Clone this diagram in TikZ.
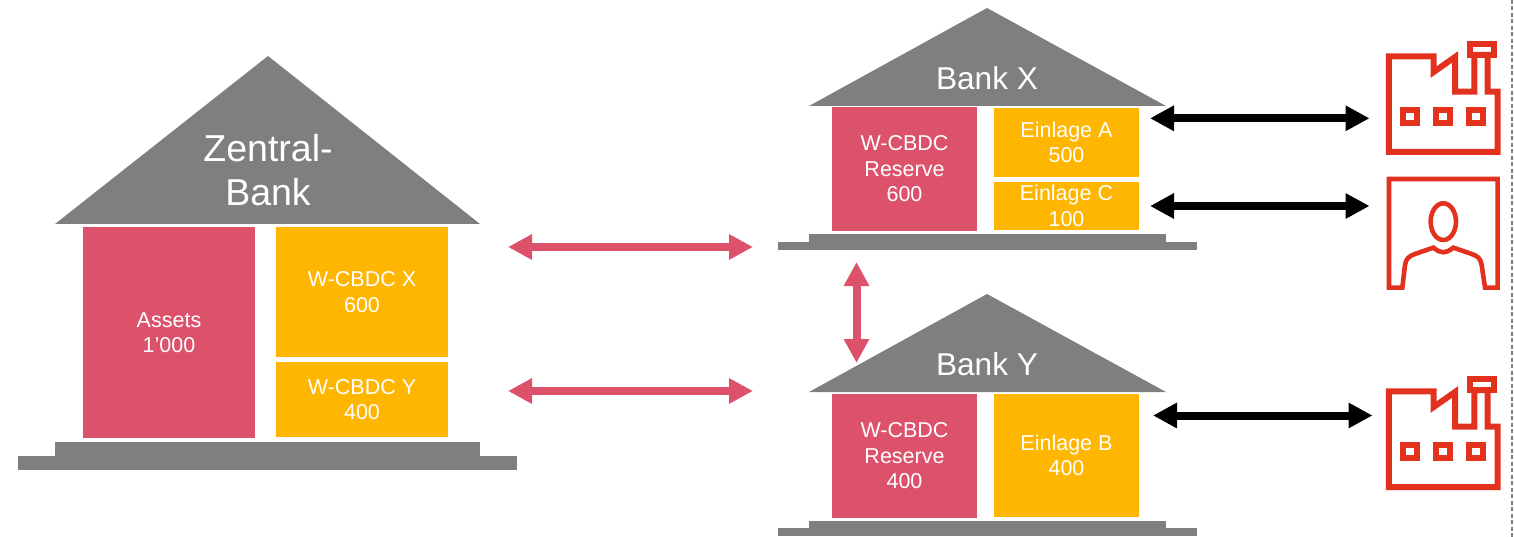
\documentclass[tikz,border=0pt]{standalone}
\usepackage{fontspec}
\setmainfont{Liberation Sans}
\usetikzlibrary{arrows.meta}
\definecolor{cbred}{HTML}{DC526B}
\definecolor{cborange}{HTML}{FFB600}
\definecolor{cbgray}{HTML}{7F7F7F}
\definecolor{iconred}{HTML}{E2321E}
\definecolor{dashgray}{HTML}{8C7B75}
\tikzset{
  box/.style={inner sep=0pt,text=white,align=center,font=\fontsize{21.5}{25.5}\selectfont,execute at begin node={\rule{0pt}{18pt}}},
  redbox/.style={box,fill=cbred},
  orangebox/.style={box,fill=cborange},
  roof/.style={fill=cbgray,draw=none},
  rooflabel/.style={inner sep=0pt,text=white,align=center},
  redarrow/.style={draw=cbred,line width=8pt,{Triangle[length=24pt,width=24pt]}-{Triangle[length=24pt,width=24pt]}},
  blackarrow/.style={draw=black,line width=8pt,{Triangle[length=24pt,width=24pt]}-{Triangle[length=24pt,width=24pt]}},
  icon/.style={draw=iconred,line width=6pt,miter limit=10},
  iconthin/.style={draw=iconred,line width=4.6pt,line join=round}
}
\newcommand{\factory}[2]{%
  \begin{scope}[shift={(#1,#2)}]
    \draw[icon] (1388.8,152) -- (1388.8,56.4) -- (1433.7,56.4) -- (1433.7,72) -- (1455,57) -- (1455,91.7) -- (1474.4,91.7) -- (1474.4,55) -- (1487.7,55) -- (1487.7,91.7) -- (1497.7,91.7) -- (1497.7,152) -- cycle;
    \draw[icon] (1469.7,43.7) rectangle (1494.3,55);
    \draw[icon] (1402.7,110) rectangle (1417.3,122.7);
    \draw[icon] (1435.7,110) rectangle (1450.3,122.7);
    \draw[icon] (1468.7,110) rectangle (1483.3,122.7);
  \end{scope}}
\begin{document}
\begin{tikzpicture}[x=1pt,y=-1pt]
\useasboundingbox (0,0) rectangle (1514,537);
% Zentralbank
\fill[roof] (55,224) -- (268,56) -- (480,224) -- cycle;
\fill[roof] (55,442) rectangle (480,456);
\fill[roof] (18,456) rectangle (517,470);
\node[rooflabel,font=\fontsize{37.5}{44}\selectfont] (zb) at (268,170) {Zentral-\\Bank};
\node[redbox,minimum width=172pt,minimum height=211pt] (assets) at (169,332.5) {Assets\\1’000};
\node[orangebox,minimum width=172pt,minimum height=130pt] (wx) at (362,292) {W-CBDC X\\600};
\node[orangebox,minimum width=172pt,minimum height=75pt] (wy) at (362,399.5) {W-CBDC Y\\400};
% Bank X
\fill[roof] (809,106) -- (987,8) -- (1166,106) -- cycle;
\fill[roof] (809,234) rectangle (1166,242);
\fill[roof] (778,242) rectangle (1197,250);
\node[rooflabel,font=\fontsize{31.6}{38}\selectfont] (bx) at (987,78) {Bank X};
\node[redbox,minimum width=145pt,minimum height=124pt] (rx) at (904.5,169) {W-CBDC\\Reserve\\600};
\node[orangebox,minimum width=145pt,minimum height=69pt] (ea) at (1066.5,142.5) {Einlage A\\500};
\node[orangebox,minimum width=145pt,minimum height=48pt] (ec) at (1066.5,206) {Einlage C\\100};
% Bank Y
\fill[roof] (809,392) -- (987,294) -- (1166,392) -- cycle;
\fill[roof] (809,521) rectangle (1166,528);
\fill[roof] (778,528) rectangle (1197,536);
\node[rooflabel,font=\fontsize{31.6}{38}\selectfont] (by) at (987,364) {Bank Y};
\node[redbox,minimum width=145pt,minimum height=124pt] (ry) at (904.5,456) {W-CBDC\\Reserve\\400};
\node[orangebox,minimum width=145pt,minimum height=123pt] (eb) at (1066.5,455.5) {Einlage B\\400};
% arrows
\coordinate (a1l) at (508,247); \coordinate (a1r) at (753,247);
\coordinate (a2l) at (508,391); \coordinate (a2r) at (753,391);
\coordinate (a3t) at (856.5,262); \coordinate (a3b) at (856.5,363);
\coordinate (b1l) at (1150,118.3); \coordinate (b1r) at (1369.5,118.3);
\coordinate (b2l) at (1150,206); \coordinate (b2r) at (1369.5,206);
\coordinate (b3l) at (1153,415.5); \coordinate (b3r) at (1372.5,415.5);
\draw[redarrow] (a1l) -- (a1r);
\draw[redarrow] (a2l) -- (a2r);
\draw[redarrow] (a3t) -- (a3b);
\draw[blackarrow] (b1l) -- (b1r);
\draw[blackarrow] (b2l) -- (b2r);
\draw[blackarrow] (b3l) -- (b3r);
% icons
\factory{0}{0}
\factory{0}{335}
\begin{scope}[shift={(1370,0)},x=0.3333pt,y=-0.3333pt]
\draw[iconthin,line join=miter] (57,863) -- (57,537) -- (383,537) -- (383,863) -- (345,863) -- (335,795)
  .. controls (332,775) and (322,768) .. (305,762) -- (250,743)
  .. controls (238,752) and (230,757) .. (220,757) .. controls (210,757) and (202,752) .. (190,743)
  -- (135,762) .. controls (118,768) and (108,775) .. (105,795) -- (97,863) -- cycle;
\draw[iconthin] (220,665) ellipse [x radius=38,y radius=55];
\end{scope}
% dashed line
\coordinate (dt) at (1512,0); \coordinate (db) at (1512,537);
\draw[dashgray,line width=1.3pt,dash pattern=on 4pt off 2.5pt] (dt) -- (db);
\end{tikzpicture}
\end{document}
